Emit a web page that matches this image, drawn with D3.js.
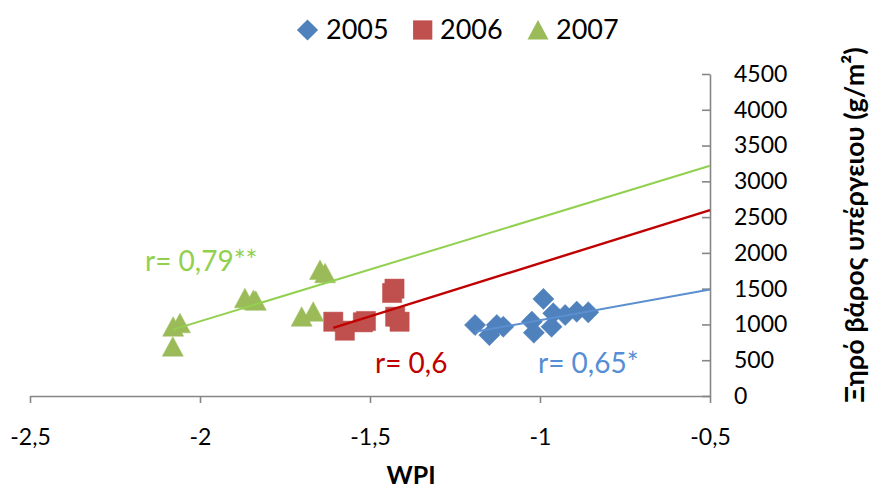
<!DOCTYPE html>
<html>
<head>
<meta charset="utf-8">
<script src="https://cdn.jsdelivr.net/npm/d3@7"></script>
<style>
  html, body { margin: 0; padding: 0; background: #ffffff; }
  svg { display: block; font-family: Lato, "Open Sans", sans-serif; }
</style>
</head>
<body>
<svg id="chart" width="872" height="490"></svg>
<script>
// WPI (x) vs above-ground dry weight (y), three seasons
const years = ["2005", "2006", "2007"];

const wpi2005 = [-1.191, -1.149, -1.127, -1.108, -1.024, -1.018, -0.990, -0.961, -0.966, -0.926, -0.892, -0.858];
const dw2005  = [992, 852, 992, 968, 1038, 885, 1356, 1156, 968, 1132, 1178, 1170];

const wpi2006 = [-1.608, -1.574, -1.521, -1.512, -1.435, -1.428, -1.426, -1.413];
const dw2006  = [1038, 913, 1030, 1048, 1440, 1500, 1108, 1038];

const wpi2007 = [-2.079, -2.059, -2.080, -1.868, -1.843, -1.836, -1.701, -1.667, -1.647, -1.632];
const dw2007  = [968, 1016, 689, 1365, 1341, 1330, 1108, 1178, 1761, 1715];

// linear trend per year: slope, intercept; drawn from first point to x = -0.5
const trendSlope     = [855, 1486, 1450];
const trendIntercept = [1915, 3342, 3943];

const rLabels = ["r= 0,65*", "r= 0,6", "r= 0,79**"];

const xTicks = [-2.5, -2, -1.5, -1, -0.5];
const yTicks = [0, 500, 1000, 1500, 2000, 2500, 3000, 3500, 4000, 4500];

const markerColors = ["#4F81BD", "#C0504D", "#9BBB59"];
const lineColors   = ["#5B8FD0", "#C00000", "#92D050"];
const labelColors  = ["#558ED5", "#C00000", "#92D050"];

const series = [
  { x: wpi2005, y: dw2005 },
  { x: wpi2006, y: dw2006 },
  { x: wpi2007, y: dw2007 }
];

const svg = d3.select("#chart");

const x = d3.scaleLinear().domain([-2.5, -0.5]).range([30, 710]);
const y = d3.scaleLinear().domain([0, 4500]).range([396, 74]);

const fmt = v => String(v).replace(".", ",");
const axisColor = "#868686";

// marker paths: diamond is a square turned 45°, triangle is equal width/height
const markerPath = [
  () => d3.symbol().type(d3.symbolSquare).size(225)(),
  () => d3.symbol().type(d3.symbolSquare).size(370)(),
  () => "M0,-10L10.5,9.5L-10.5,9.5Z"
];
const markerRotate = [45, 0, 0];

// x axis
const gx = svg.append("g").attr("transform", `translate(0,${y(0)})`)
  .call(d3.axisBottom(x).tickValues(xTicks).tickFormat(fmt).tickSize(7).tickPadding(26).tickSizeOuter(0));
gx.select(".domain").attr("stroke", axisColor).attr("stroke-width", 1.6);
gx.selectAll(".tick line").attr("stroke", axisColor).attr("stroke-width", 1.6);
gx.selectAll(".tick text").attr("font-size", 23).attr("fill", "#000").attr("font-family", "Lato");

// y axis on the right, ticks pointing into the plot, labels to the right
const gy = svg.append("g").attr("transform", `translate(${x(-0.5)},0)`)
  .call(d3.axisLeft(y).tickValues(yTicks).tickSize(8).tickSizeOuter(0).tickFormat(d3.format("d")));
gy.select(".domain").attr("stroke", axisColor).attr("stroke-width", 1.6);
gy.selectAll(".tick line").attr("stroke", axisColor).attr("stroke-width", 1.6);
gy.selectAll(".tick text")
  .attr("x", 24).attr("text-anchor", "start")
  .attr("font-size", 23).attr("fill", "#000").attr("font-family", "Lato");

// markers
series.forEach((s, i) => {
  svg.append("g").selectAll("path")
    .data(s.x.map((v, k) => [v, s.y[k]]))
    .join("path")
    .attr("d", markerPath[i])
    .attr("transform", d => `translate(${x(d[0])},${y(d[1])}) rotate(${markerRotate[i]})`)
    .attr("fill", markerColors[i])
    .attr("stroke", markerColors[i])
    .attr("stroke-width", 0.8)
    .attr("stroke-opacity", 0.6);
});

// trend lines
series.forEach((s, i) => {
  const x0 = d3.min(s.x), x1 = -0.5;
  const f = v => trendSlope[i] * v + trendIntercept[i];
  svg.append("line")
    .attr("x1", x(x0)).attr("y1", y(f(x0)))
    .attr("x2", x(x1)).attr("y2", y(f(x1)))
    .attr("stroke", lineColors[i])
    .attr("stroke-width", i === 1 ? 2.4 : 2);
});

// correlation labels
const rPos = [[538, 373], [375, 373], [145, 271]];
rLabels.forEach((t, i) => {
  svg.append("text")
    .attr("x", rPos[i][0]).attr("y", rPos[i][1])
    .attr("font-size", 28).attr("fill", labelColors[i])
    .text(t);
});

// legend
const legendMarkerX = [307.5, 422.7, 538];
const legendTextX = [326, 440, 556];
years.forEach((yr, i) => {
  svg.append("path")
    .attr("d", markerPath[i])
    .attr("transform", `translate(${legendMarkerX[i]},30) rotate(${markerRotate[i]})`)
    .attr("fill", markerColors[i]);
  svg.append("text")
    .attr("x", legendTextX[i]).attr("y", 38.5)
    .attr("font-size", 27).attr("fill", "#000")
    .text(yr);
});

// axis titles
svg.append("text")
  .attr("x", 411).attr("y", 484)
  .attr("text-anchor", "middle")
  .attr("font-size", 25).attr("font-weight", "bold")
  .text("WPI");

svg.append("text")
  .attr("transform", "translate(864,225) rotate(-90)")
  .attr("text-anchor", "middle")
  .attr("font-size", 27).attr("font-weight", "bold")
  .text("Ξηρό βάρος υπέργειου (g/m²)");
</script>
</body>
</html>
